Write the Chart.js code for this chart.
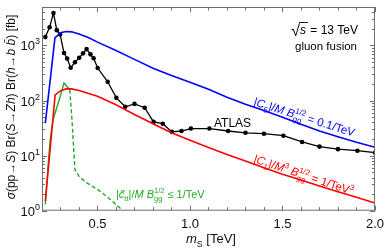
<!DOCTYPE html>
<html>
<head>
<meta charset="utf-8">
<script src="https://cdn.jsdelivr.net/npm/chart.js@4"></script>
<style>
  html, body { margin: 0; padding: 0; background: #fff; }
  #wrap { width: 390px; height: 249px; }
</style>
</head>
<body>
<div id="wrap"><canvas id="sigma-canvas"></canvas></div>
<script>
// data (m_S in TeV, sigma*Br in fb)
var atlasX = [0.218, 0.241, 0.262, 0.28, 0.298, 0.319, 0.336, 0.355, 0.378, 0.401, 0.422, 0.441, 0.462, 0.479, 0.501,
  0.555, 0.602, 0.65, 0.70, 0.755, 0.803, 0.853, 0.902, 0.954, 1.005, 1.105, 1.206, 1.30, 1.40, 1.505, 1.606, 1.70, 1.80, 1.905, 2.0];
var atlasY = [1420, 2150, 3890, 1900, 1580, 730, 580, 395, 495, 600, 720, 860, 690, 585, 390,
  219, 112, 77, 87, 74, 41, 38, 27, 28, 31, 31, 28, 26, 25, 23, 17.7, 14.6, 13.1, 12.3, 11.3];

var c5X = [0.218, 0.27, 0.3, 0.33, 0.36, 0.4, 0.45, 0.5, 0.6, 0.7, 0.8, 0.9, 1.0, 1.1, 1.2, 1.3, 1.4, 1.5, 1.6, 1.7, 1.8, 1.9, 2.0];
var c5Y = [39, 1380, 1700, 1790, 1770, 1620, 1400, 1150, 810, 560, 385, 285, 215, 160, 115, 86, 66, 50, 37, 28, 22, 17.5, 14.2];

var c1X = [0.218, 0.271, 0.3, 0.33, 0.36, 0.4, 0.5, 0.6, 0.7, 0.8, 0.9, 1.0, 1.1, 1.2, 1.3, 1.4, 1.5, 1.6, 1.7, 1.8, 1.9, 2.0];
var c1Y = [1.5, 127, 150, 163, 163, 152, 120, 84, 56, 38, 26, 19, 14, 10.5, 8, 6, 4.6, 3.6, 2.8, 2.2, 1.75, 1.38];

var cttX = [0.218, 0.232, 0.244, 0.26, 0.28, 0.298, 0.319, 0.35];
var cttY = [1.3, 6, 19, 45, 75, 117, 209, 157];
var cttDashX = [0.35, 0.362, 0.372, 0.378, 0.4, 0.442, 0.511, 0.56, 0.628];
var cttDashY = [157, 45, 12, 5.6, 4.2, 3.2, 2.3, 1.7, 1.07];

var yDecades = [1, 10, 100, 1000];
var xLabels = [0.5, 1.0, 1.5, 2.0];

var FONT = '"Liberation Sans", Arial, sans-serif';

function pts(xs, ys) {
  return xs.map(function (x, i) { return { x: x, y: ys[i] }; });
}

// draw text made of pieces (italic, sub, sup); returns width
function rich(ctx, parts, x, y, size, draw) {
  var cx = x;
  parts.forEach(function (p) {
    var fs = p.s ? size * 0.68 : size;
    ctx.font = (p.i ? "italic " : "") + fs.toFixed(1) + "px " + FONT;
    var dy = p.s === "sub" ? size * 0.3 : p.s === "sup" ? -size * 0.42 : 0;
    if (draw) ctx.fillText(p.t, cx, y + dy);
    if (!p.k) cx += ctx.measureText(p.t).width;
  });
  return cx - x;
}
function N(t) { return { t: t }; }
function I(t) { return { t: t, i: 1 }; }
function SB(t, keep) { return { t: t, s: "sub", k: keep }; }
function SP(t) { return { t: t, s: "sup" }; }

var frameColor = "#6e6e6e";

var decorPlugin = {
  id: "decor",
  afterDraw: function (chart) {
    var ctx = chart.ctx;
    var a = chart.chartArea;
    var xs = chart.scales.x, ys = chart.scales.y;
    ctx.save();

    // frame + inward ticks
    ctx.strokeStyle = frameColor;
    ctx.lineWidth = 1;
    ctx.strokeRect(a.left + 0.5, a.top + 0.5, a.right - a.left - 1, a.bottom - a.top - 1);
    ctx.beginPath();
    xs.ticks.forEach(function (t) {
      var px = Math.round(xs.getPixelForValue(t.value)) + 0.5;
      var big = Math.abs(t.value * 2 - Math.round(t.value * 2)) < 1e-6;
      var len = big ? 5 : 3.5;
      ctx.moveTo(px, a.bottom); ctx.lineTo(px, a.bottom - len);
      ctx.moveTo(px, a.top); ctx.lineTo(px, a.top + len);
    });
    yDecades.forEach(function (d) {
      for (var m = 1; m <= 9; m++) {
        var v = d * m;
        if (v > ys.max) break;
        var py = Math.round(ys.getPixelForValue(v)) + 0.5;
        var len = m === 1 ? 5 : 3;
        ctx.moveTo(a.left, py); ctx.lineTo(a.left + len, py);
        ctx.moveTo(a.right, py); ctx.lineTo(a.right - len, py);
      }
    });
    ctx.stroke();

    // y tick labels 10^n
    ctx.fillStyle = "#111";
    ctx.textBaseline = "alphabetic";
    yDecades.forEach(function (d, n) {
      var py = ys.getPixelForValue(d);
      ctx.font = "9px " + FONT;
      var ew = ctx.measureText(String(n)).width;
      ctx.font = "13px " + FONT;
      var bw = ctx.measureText("10").width;
      var right = a.left - 2;
      ctx.fillText("10", right - ew - bw, py + 5);
      ctx.font = "9px " + FONT;
      ctx.fillText(String(n), right - ew, py - 1);
    });

    // y axis title
    var ytitle = [I("σ"), N("(pp→"), I("S"), N(") Br("), I("S"), N("→"), I("Z"), I("h"), N(") Br("), I("h"), N("→"),
      I("b"), N(" "), I("b\u0304"), N(") [fb]")];
    ctx.save();
    ctx.translate(15, 107);
    ctx.rotate(-Math.PI / 2);
    var tw = rich(ctx, ytitle, 0, 0, 12, false);
    rich(ctx, ytitle, -tw / 2, 0, 12, true);
    ctx.restore();

    // x axis title
    var xtitle = [I("m"), SB("S"), N(" [TeV]")];
    var xw = rich(ctx, xtitle, 0, 0, 13, false);
    rich(ctx, xtitle, 211 - xw / 2, 243, 13, true);

    // sqrt(s) = 13 TeV
    ctx.fillStyle = "#000";
    ctx.font = "16px " + FONT;
    var rw = ctx.measureText("√").width;
    ctx.font = "italic 12px " + FONT;
    var sw = ctx.measureText("s").width;
    ctx.font = "12px " + FONT;
    var restw = ctx.measureText(" = 13 TeV").width;
    var x0 = 358 - (rw + sw + 1 + restw);
    ctx.font = "16px " + FONT;
    ctx.fillText("√", x0, 36);
    ctx.font = "italic 12px " + FONT;
    ctx.fillText("s", x0 + rw, 34);
    ctx.font = "12px " + FONT;
    ctx.fillText(" = 13 TeV", x0 + rw + sw + 1, 34);
    ctx.strokeStyle = "#000";
    ctx.lineWidth = 0.9;
    ctx.beginPath();
    ctx.moveTo(x0 + rw - 1, 22.5);
    ctx.lineTo(x0 + rw + sw + 2, 22.5);
    ctx.stroke();

    ctx.textAlign = "right";
    ctx.font = "11.5px " + FONT;
    ctx.fillText("gluon fusion", 357, 50);
    ctx.textAlign = "left";
    ctx.font = "12px " + FONT;
    ctx.fillText("ATLAS", 214, 127);

    // curve labels
    ctx.fillStyle = "#0000ff";
    ctx.save();
    ctx.translate(253, 105);
    ctx.rotate(17.5 * Math.PI / 180);
    rich(ctx, [N("|"), I("C"), SB("5"), N("|/"), I("M"), N(" "), I("B"), SB("gg", true), SP("1/2"), N(" = 0.1/TeV")], 0, 0, 11.5, true);
    ctx.restore();

    ctx.fillStyle = "#ff0000";
    ctx.save();
    ctx.translate(253, 162);
    ctx.rotate(18.5 * Math.PI / 180);
    rich(ctx, [N("|"), I("C"), SB("1"), N("|/"), I("M"), SP("3"), N(" "), I("B"), SB("gg", true), SP("1/2"), N(" = 1/TeV"), SP("3")], 0, 0, 11.5, true);
    ctx.restore();

    ctx.fillStyle = "#22aa22";
    rich(ctx, [N("|"), I("c\u0303"), SB("tt"), N("|/"), I("M"), N(" "), I("B"), SB("gg", true), SP("1/2"), N(" ≤ 1/TeV")], 116, 198, 11, true);

    ctx.restore();
  },
};

new Chart(document.getElementById("sigma-canvas"), {
  type: "line",
  data: {
    datasets: [
      {
        label: "|C5|/M Bgg^1/2 = 0.1/TeV",
        data: pts(c5X, c5Y),
        borderColor: "#0000ff",
        borderWidth: 1.6,
        pointRadius: 0,
      },
      {
        label: "|C1|/M^3 Bgg^1/2 = 1/TeV^3",
        data: pts(c1X, c1Y),
        borderColor: "#ff0000",
        borderWidth: 1.6,
        pointRadius: 0,
      },
      {
        label: "ctt",
        data: pts(cttX, cttY),
        borderColor: "#22aa22",
        borderWidth: 1.4,
        pointRadius: 0,
      },
      {
        label: "ctt dashed",
        data: pts(cttDashX, cttDashY),
        borderColor: "#22aa22",
        borderWidth: 1.4,
        borderDash: [4, 2.5],
        pointRadius: 0,
      },
      {
        label: "ATLAS",
        data: pts(atlasX, atlasY),
        borderColor: "#000",
        backgroundColor: "#000",
        borderWidth: 1.3,
        pointRadius: 2.3,
        pointBorderWidth: 0,
      },
    ],
  },
  options: {
    responsive: true,
    maintainAspectRatio: false,
    animation: false,
    events: [],
    layout: { padding: { top: 7, right: 11, left: 0, bottom: 0 } },
    elements: { line: { tension: 0, fill: false } },
    plugins: {
      legend: { display: false },
      tooltip: { enabled: false },
    },
    scales: {
      x: {
        type: "linear",
        min: 0.2,
        max: 2.0,
        grid: { display: false, drawTicks: false },
        border: { display: false },
        ticks: {
          stepSize: 0.1,
          autoSkip: false,
          maxRotation: 0,
          padding: 6,
          color: "#111",
          font: { family: FONT, size: 13 },
          callback: function (v) {
            for (var i = 0; i < xLabels.length; i++) {
              if (Math.abs(v - xLabels[i]) < 1e-6) return xLabels[i].toFixed(1);
            }
            return "";
          },
        },
        afterFit: function (s) { s.height = 38.3; },
      },
      y: {
        type: "logarithmic",
        min: 1,
        max: 5000,
        grid: { display: false, drawTicks: false },
        border: { display: false },
        ticks: { display: false },
        afterFit: function (s) { s.width = 42; },
      },
    },
  },
  plugins: [decorPlugin],
});
</script>
</body>
</html>
